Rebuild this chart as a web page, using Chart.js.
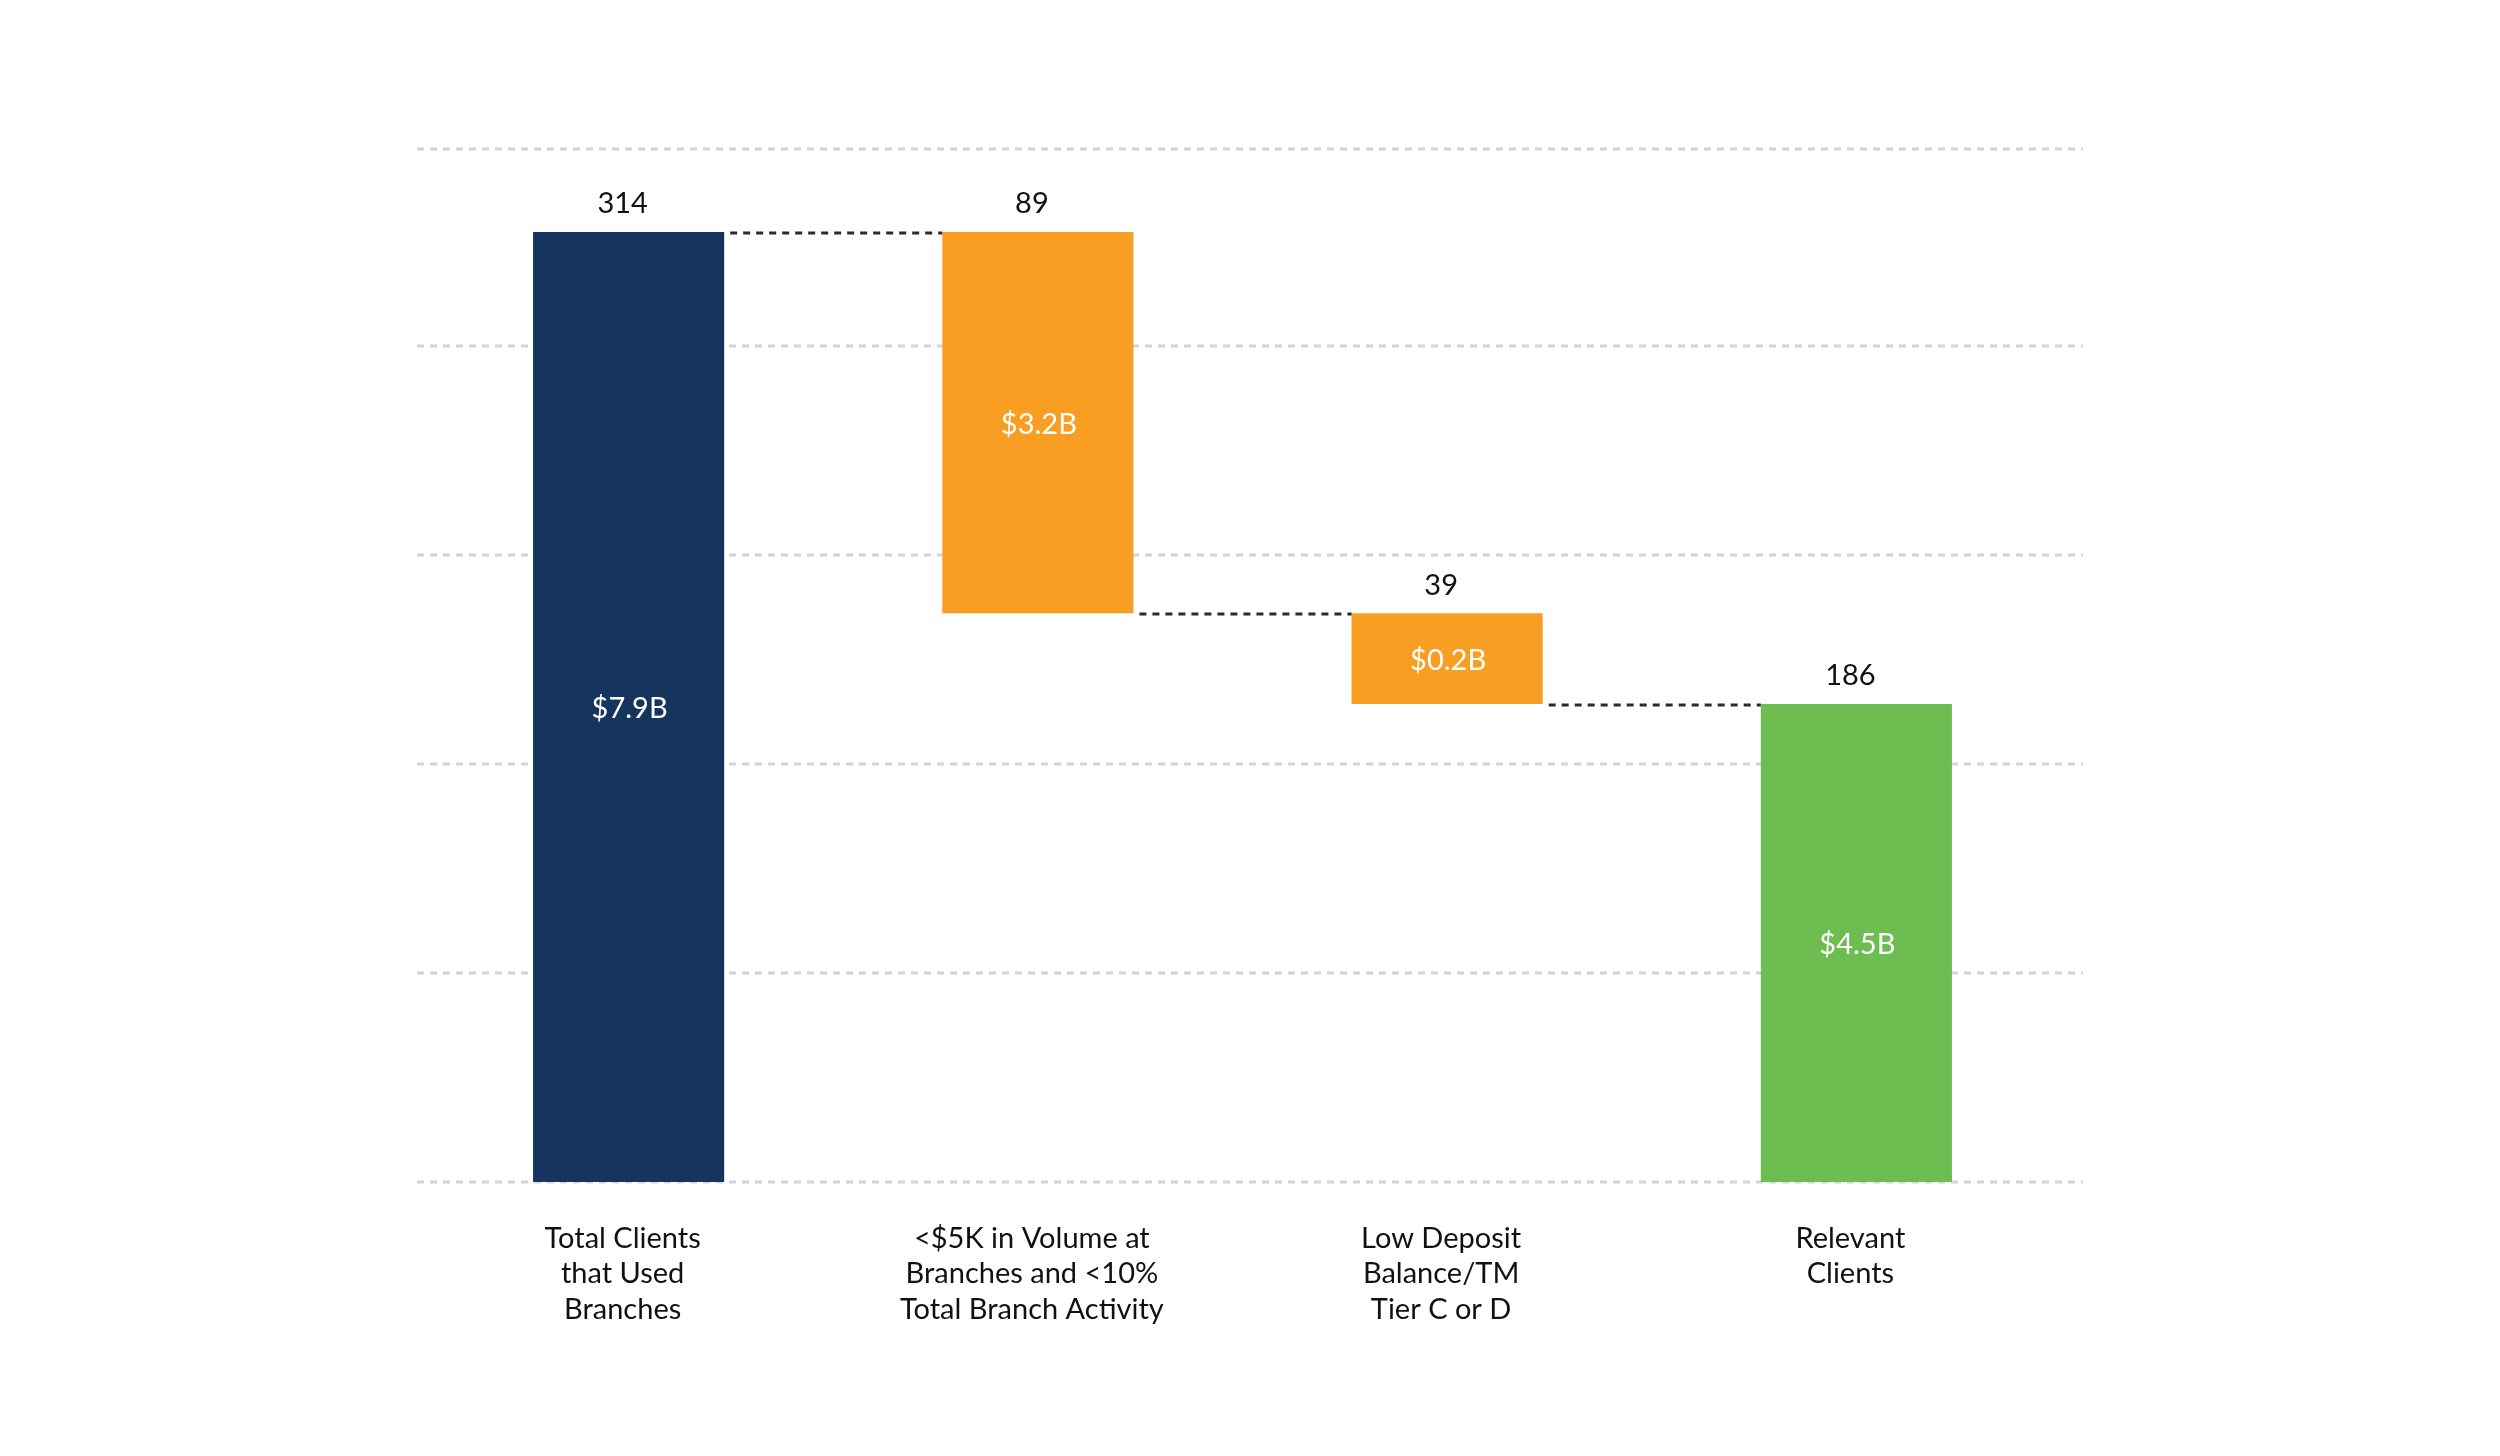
<!DOCTYPE html>
<html>
<head>
<meta charset="utf-8">
<script src="https://cdn.jsdelivr.net/npm/chart.js@4.4.0/dist/chart.umd.min.js"></script>
<style>
  html, body { margin: 0; padding: 0; background: #ffffff; }
  #wrap { width: 2500px; height: 1456px; position: relative; }
</style>
</head>
<body>
<div id="wrap"><canvas id="c" width="2500" height="1456"></canvas></div>
<script>
// ---- data ----
const categories = [
  ["Total Clients", "that Used", "Branches"],
  ["<$5K in Volume at", "Branches and <10%", "Total Branch Activity"],
  ["Low Deposit", "Balance/TM", "Tier C or D"],
  ["Relevant", "Clients"]
];
const barBottoms = [0, 188, 158, 0];
const barTops = [314, 314, 188, 158];
const clientCounts = ["314", "89", "39", "186"];
const dollarValues = ["$7.9B", "$3.2B", "$0.2B", "$4.5B"];
const gridValues = [0, 69.1, 138.2, 207.3, 276.4, 341.4];

// ---- styles ----
const barColors = ["#15355f", "#f89e22", "#f89e22", "#6dbd50"];
const FONT = "Lato, 'Open Sans', sans-serif";

const floating = barBottoms.map((b, i) => [b, barTops[i]]);

const decorPlugin = {
  id: 'decor',
  beforeDatasetsDraw(chart) {
    const ctx = chart.ctx;
    const y = chart.scales.y;
    ctx.save();
    ctx.strokeStyle = '#d4d4d4';
    ctx.lineWidth = 3;
    ctx.setLineDash([7, 6]);
    gridValues.forEach(v => {
      const py = Math.round(y.getPixelForValue(v));
      ctx.beginPath();
      ctx.moveTo(417, py);
      ctx.lineTo(2083, py);
      ctx.stroke();
    });
    ctx.restore();
  },
  afterDatasetsDraw(chart) {
    const ctx = chart.ctx;
    const y = chart.scales.y;
    const bars = chart.getDatasetMeta(0).data;
    ctx.save();
    // connectors
    ctx.strokeStyle = '#2b2b2b';
    ctx.lineWidth = 3;
    ctx.setLineDash([7, 6]);
    for (let i = 0; i < bars.length - 1; i++) {
      const a = bars[i], b = bars[i + 1];
      const py = Math.round(y.getPixelForValue(barTops[i + 1])) + 1;
      ctx.beginPath();
      ctx.moveTo(a.x + a.width / 2 + 6, py);
      ctx.lineTo(b.x - b.width / 2, py);
      ctx.stroke();
    }
    ctx.setLineDash([]);
    // labels
    ctx.textAlign = 'center';
    ctx.textBaseline = 'middle';
    ctx.font = "29px " + FONT;
    bars.forEach((bar, i) => {
      const top = y.getPixelForValue(barTops[i]);
      const bot = y.getPixelForValue(barBottoms[i]);
      ctx.fillStyle = '#111111';
      ctx.fillText(clientCounts[i], bar.x - 6, top - 28);
      ctx.fillStyle = '#ffffff';
      ctx.fillText(dollarValues[i], bar.x + 1, (top + bot) / 2 + 2);
    });
    ctx.restore();
  }
};

new Chart(document.getElementById('c'), {
  type: 'bar',
  data: {
    labels: categories,
    datasets: [{
      data: floating,
      backgroundColor: barColors,
      borderWidth: 0,
      borderSkipped: false,
      categoryPercentage: 1.0,
      barPercentage: 0.467
    }]
  },
  options: {
    responsive: false,
    devicePixelRatio: 1,
    animation: false,
    layout: { padding: { left: 424, right: 439, top: 149, bottom: 74 } },
    plugins: { legend: { display: false }, tooltip: { enabled: false } },
    scales: {
      x: {
        grid: { display: false, drawTicks: false },
        border: { display: false },
        ticks: {
          color: '#111111',
          font: { family: FONT, size: 29, lineHeight: 1.22 },
          padding: 39,
          labelOffset: -6,
          maxRotation: 0,
          autoSkip: false
        },
        afterFit(scale) { scale.height = 200; }
      },
      y: {
        display: false,
        min: 0,
        max: 341.4
      }
    }
  },
  plugins: [decorPlugin]
});
</script>
</body>
</html>
